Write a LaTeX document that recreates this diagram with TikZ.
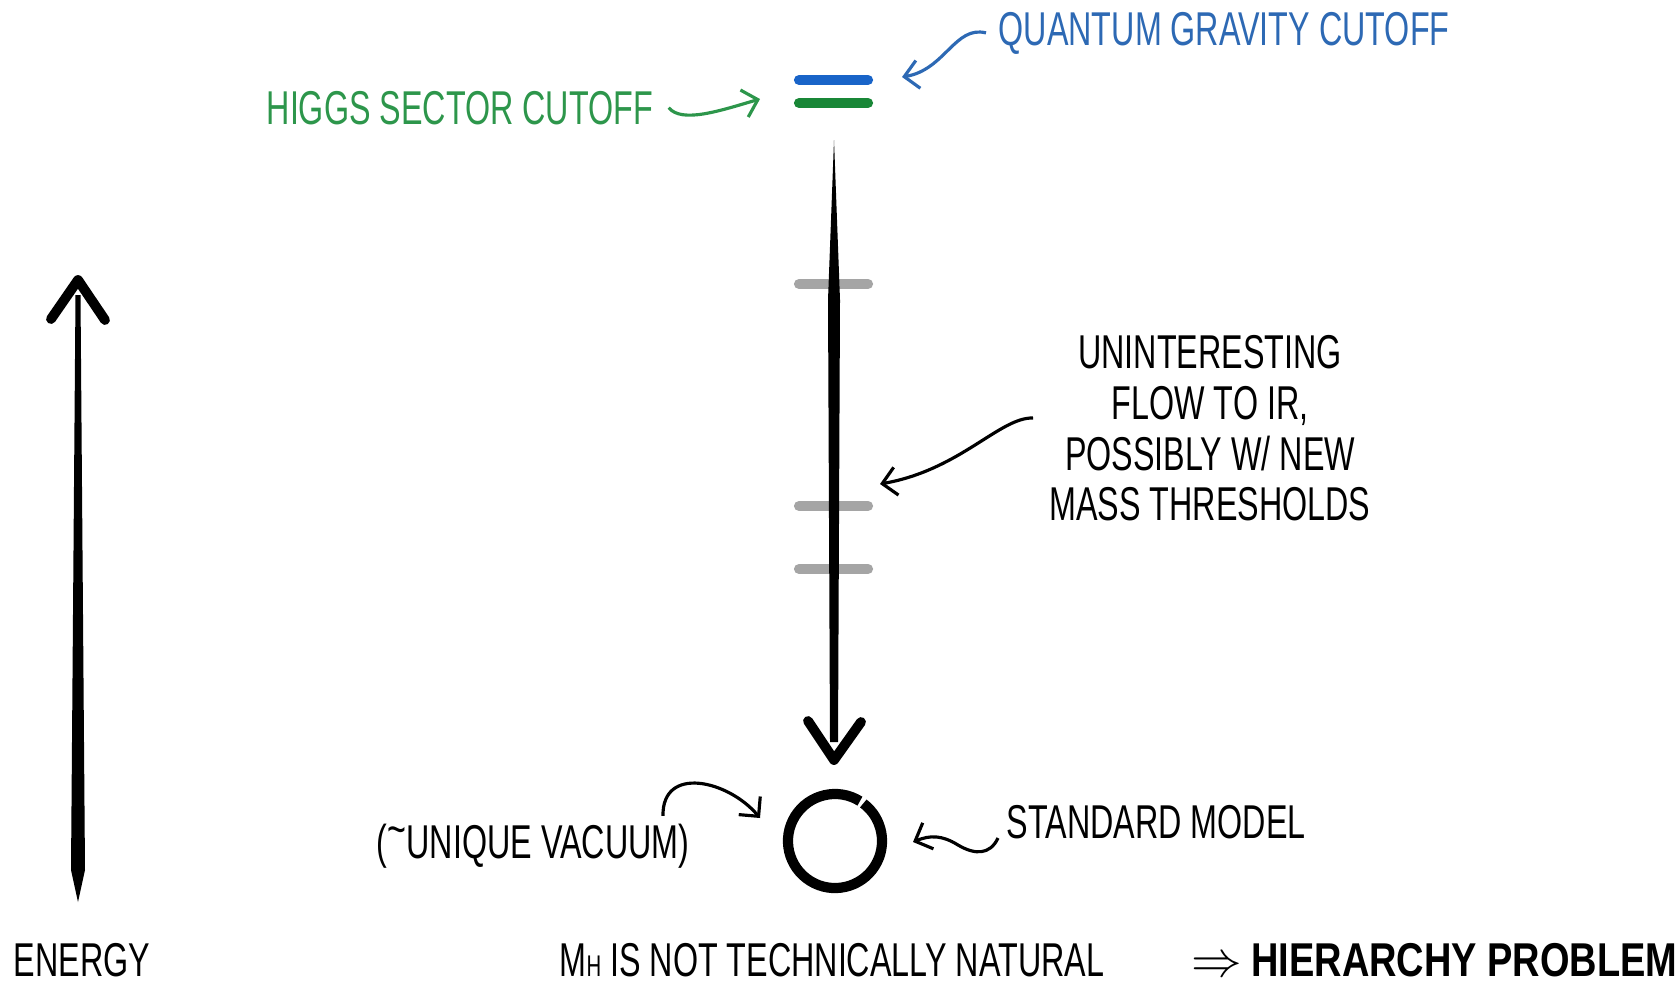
\documentclass[tikz,border=0pt]{standalone}
\usepackage{fontspec}
\setmainfont{Liberation Sans}[FakeStretch=0.68]
\newfontfamily\heavyfont{Liberation Sans}[FakeStretch=0.8]
\usetikzlibrary{arrows.meta,positioning}

\definecolor{qgblue}{RGB}{45,105,180}
\definecolor{qgbar}{RGB}{25,100,200}
\definecolor{higgsgreen}{RGB}{45,150,75}
\definecolor{higgsbar}{RGB}{25,135,55}
\definecolor{threshgray}{RGB}{165,165,165}

\tikzset{
    lbl/.style={font=\fontsize{13.5}{14.4}\selectfont, inner sep=0pt},
    scalebar/.style={line width=2.9pt, line cap=round},
    headstroke/.style={line width=2.8pt, line cap=round, line join=round},
    pointer/.style={line width=0.9pt, -{Straight Barb[length=4pt,width=8pt]}},
}

\begin{document}
\begin{tikzpicture}[x=0.01cm, y=-0.01cm]
    \useasboundingbox (0,0) rectangle (1679,981);

    % energy axis on the left
    \coordinate (etop) at (78,280);
    \fill (75.5,295) -- (80.5,295) -- (85,870) -- (78,902) -- (71,870) -- cycle;
    \draw[headstroke] (51,319) -- (etop) -- (105,320);

    % cutoff scales
    \coordinate (qgcut) at (834,80);
    \coordinate (higgscut) at (834,103);
    \draw[scalebar, qgbar] (799,80) -- (868,80);
    \draw[scalebar, higgsbar] (799,103) -- (868,103);
    \foreach \y in {284,506,569} {
        \draw[scalebar, threshgray] (799,\y) -- (868,\y);
    }

    % running down to the IR
    \coordinate (vtip) at (834,760);
    \fill (834,140) -- (840,300) -- (838,742) -- (830,742) -- (828,300) -- cycle;
    \draw[headstroke] (808,721) -- (vtip) -- (861,722);

    % the vacuum
    \coordinate (vac) at (835,841);
    \draw[line width=2.9pt] (vac) ++(58:0.47cm) arc[start angle=58, end angle=413, radius=0.47cm];

    % labels
    \node[lbl, text=higgsgreen, anchor=base west] (higgs) at (266,124) {HIGGS SECTOR CUTOFF};
    \node[lbl, text=qgblue, anchor=base west] (qg) at (998,45) {QUANTUM GRAVITY CUTOFF};
    \node[lbl, align=center, anchor=north] (flow) at (1210,335)
        {UNINTERESTING\\FLOW TO IR,\\POSSIBLY W/ NEW\\MASS THRESHOLDS};
    \node[lbl, anchor=base west] (smlabel) at (1006,838) {STANDARD MODEL};
    \node[lbl, anchor=base east] (vaclabel) at (690,858) {(\raisebox{0.5ex}{\~{}}UNIQUE VACUUM)};
    \node[lbl, anchor=base west] (energy) at (13,976) {ENERGY};
    \node[lbl, anchor=base west] (natural) at (559,976) {M{\fontsize{8.5}{9}\selectfont H} IS NOT TECHNICALLY NATURAL};
    \node[lbl, anchor=base west] (hier) at (1191,976) {$\Rightarrow$ {\heavyfont\bfseries HIERARCHY PROBLEM}};

    % pointers
    \coordinate (higgstip) at (760,99);
    \coordinate (qgtip) at (902,77);
    \coordinate (flowtip) at (880,484);
    \coordinate (vactip) at (760,818);
    \coordinate (smtip) at (913,842);
    \draw[pointer, higgsgreen] ([xshift=0.15cm]higgs.east) .. controls (682,124) and (722,110) .. (higgstip);
    \draw[pointer, qgblue] ([xshift=-0.12cm]qg.west) .. controls (955,25) and (945,70) .. (qgtip);
    \draw[pointer] (1033,418) .. controls (1000,417) and (960,470) .. (flowtip);
    \draw[pointer] ([xshift=-0.27cm,yshift=0.07cm]vaclabel.north east) .. controls (662,765) and (728,780) .. (vactip);
    \draw[pointer] ([xshift=-0.08cm]smlabel.base west) .. controls (990,855) and (975,855) .. (958,845)
        .. controls (942,835) and (930,835) .. (smtip);
\end{tikzpicture}
\end{document}
